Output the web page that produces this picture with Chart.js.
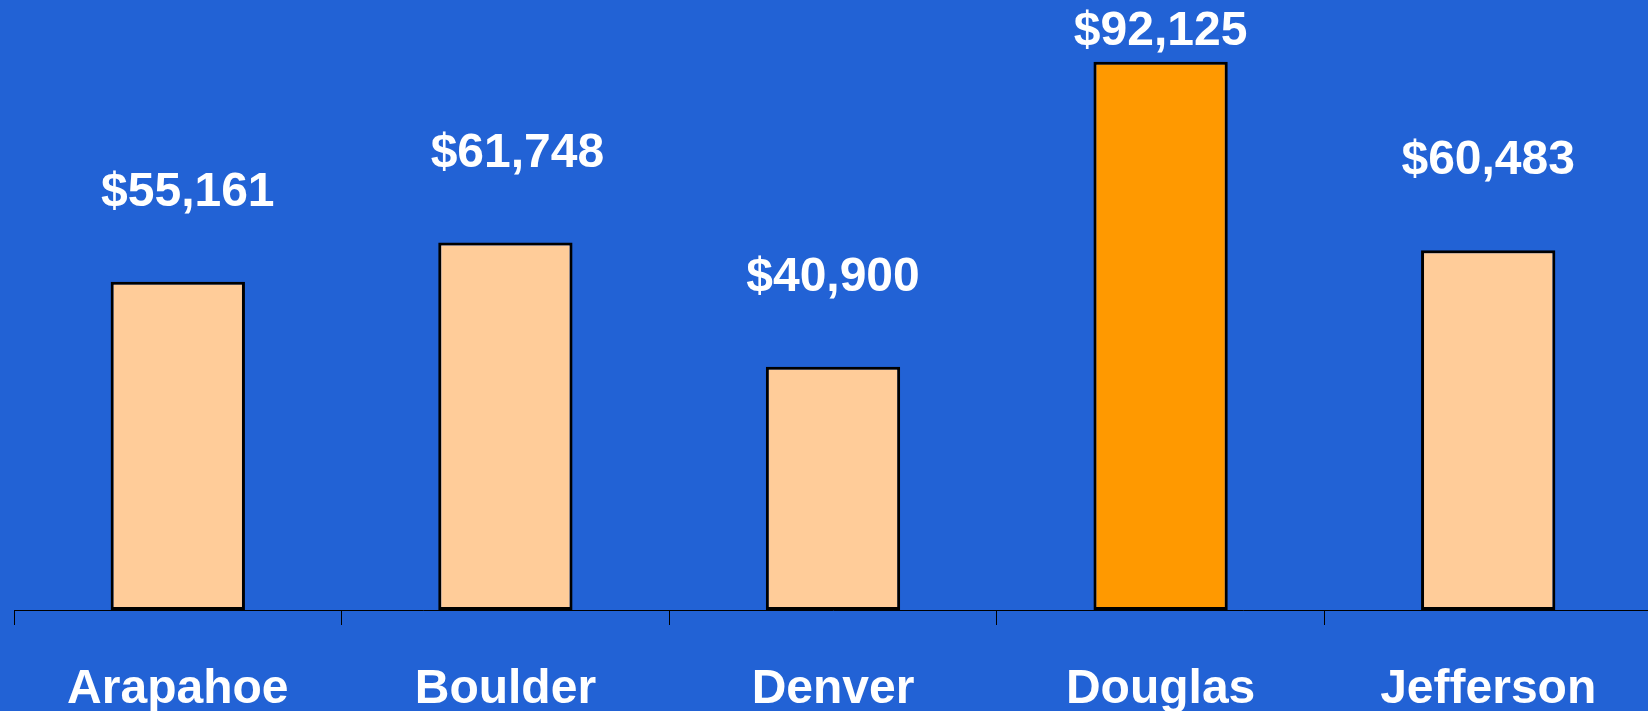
<!DOCTYPE html>
<html>
<head>
<meta charset="utf-8">
<script src="https://cdn.jsdelivr.net/npm/chart.js@4"></script>
<style>
  html, body { margin: 0; padding: 0; background: #2262d5; overflow: hidden; }
  #wrap { width: 1652px; height: 711px; }
</style>
</head>
<body>
<div id="wrap"><canvas id="incomeChart"></canvas></div>
<script>
// Median household income by county
const counties = ["Arapahoe", "Boulder", "Denver", "Douglas", "Jefferson"];
const incomes = [55161, 61748, 40900, 92125, 60483];
const barColors = ["#ffcc99", "#ffcc99", "#ffcc99", "#ff9900", "#ffcc99"];

const fmt = v => "$" + v.toLocaleString("en-US");

// draws the dollar amounts above each bar
const valueLabels = {
  id: "valueLabels",
  afterDatasetsDraw(chart, args, opts) {
    const ctx = chart.ctx;
    const meta = chart.getDatasetMeta(0);
    ctx.save();
    ctx.fillStyle = "#ffffff";
    ctx.font = "bold 48px 'Liberation Sans', Arial, sans-serif";
    ctx.textAlign = "center";
    ctx.textBaseline = "middle";
    meta.data.forEach((bar, i) => {
      let y = bar.y - 89;
      if (y < 32) y = 32;
      const dx = (opts.nudge && opts.nudge[i]) || 0;
      ctx.fillText(fmt(incomes[i]), bar.x + dx, y);
    });
    ctx.restore();
  }
};

const ctx = document.getElementById("incomeChart").getContext("2d");
new Chart(ctx, {
  type: "bar",
  data: {
    labels: counties,
    datasets: [{
      data: incomes,
      backgroundColor: barColors,
      borderColor: "#000000",
      borderWidth: 3,
      borderSkipped: false,
      categoryPercentage: 1,
      barPercentage: 0.41
    }]
  },
  options: {
    responsive: true,
    maintainAspectRatio: false,
    animation: false,
    layout: { padding: { left: 14, top: 15, right: 0, bottom: 0 } },
    plugins: {
      legend: { display: false },
      tooltip: { enabled: false },
      valueLabels: { nudge: [10, 12, 0, 0, 0] }
    },
    scales: {
      y: {
        display: false,
        min: 0,
        max: 100000
      },
      x: {
        afterFit: scale => { scale.height = 101; },
        border: { display: true, color: "#000000", width: 1 },
        grid: {
          offset: true,
          drawOnChartArea: false,
          drawTicks: true,
          tickLength: 15,
          color: "#000000"
        },
        ticks: {
          color: "#ffffff",
          padding: 39,
          font: { family: "'Liberation Sans', Arial, sans-serif", size: 48, weight: "bold", lineHeight: 1.083 },
          maxRotation: 0,
          autoSkip: false
        }
      }
    }
  },
  plugins: [valueLabels]
});
</script>
</body>
</html>
